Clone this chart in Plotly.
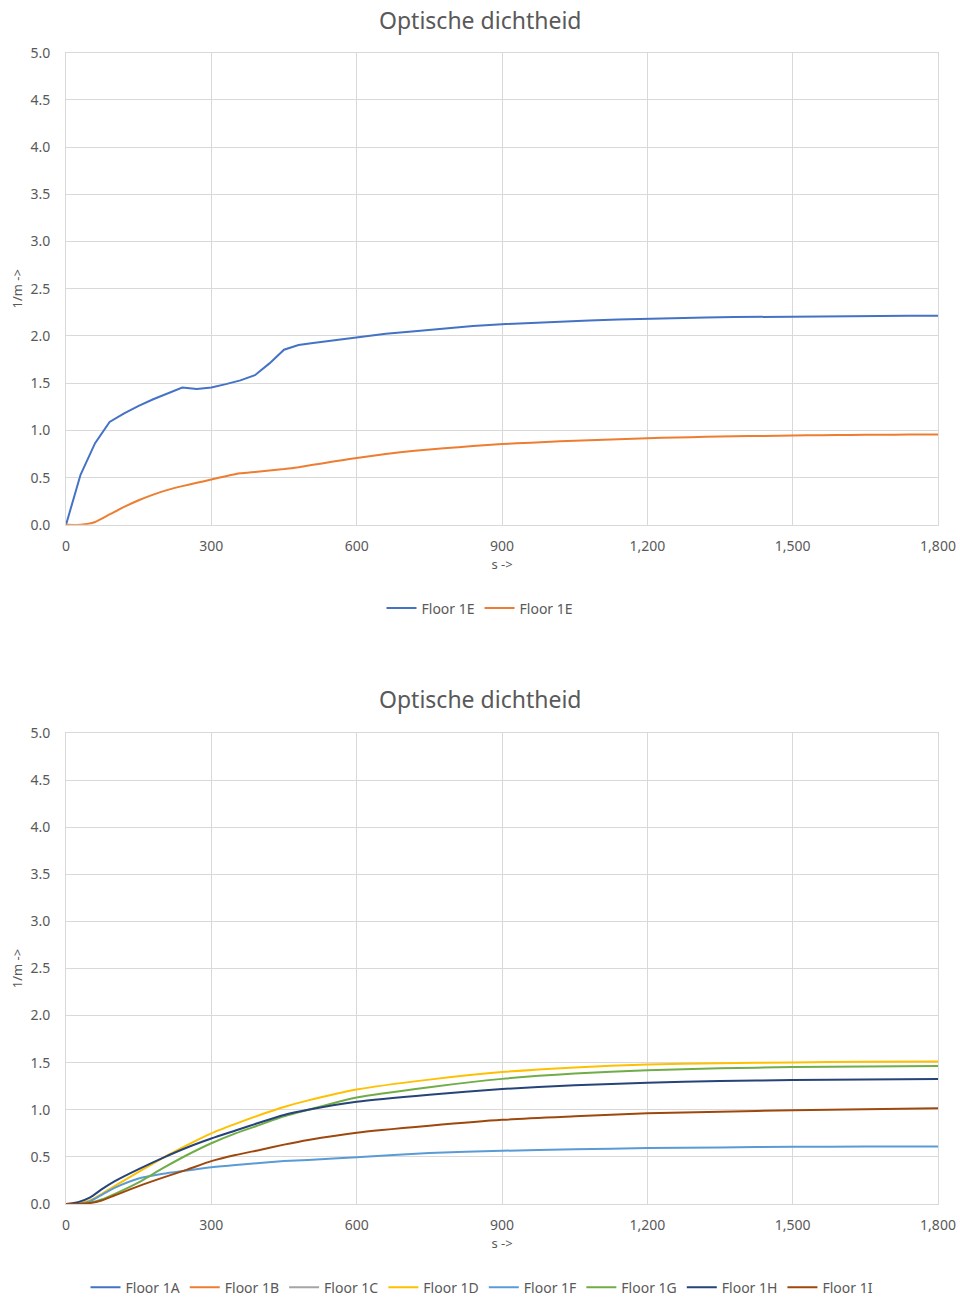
import plotly.graph_objects as go

# ---------------- data: top chart ----------------
t_top = [0, 30, 60, 90, 120, 150, 180, 210, 240, 270, 300, 330, 360, 390, 420, 450,
         480, 510, 540, 570, 600, 660, 720, 780, 840, 900, 960, 1020, 1080, 1140,
         1200, 1260, 1320, 1380, 1440, 1500, 1560, 1620, 1680, 1740, 1800]
floor_1e_a = [0.0, 0.53, 0.865, 1.09, 1.18, 1.26, 1.33, 1.39, 1.455, 1.438, 1.455, 1.49,
              1.53, 1.585, 1.71, 1.855, 1.905, 1.925, 1.945, 1.965, 1.99, 2.025, 2.05,
              2.08, 2.105, 2.125, 2.14, 2.155, 2.165, 2.175, 2.184, 2.19, 2.196, 2.2,
              2.204, 2.208, 2.21, 2.212, 2.213, 2.214, 2.215]
floor_1e_b = [0.0, 0.0, 0.03, 0.11, 0.19, 0.26, 0.32, 0.37, 0.41, 0.445, 0.48, 0.515,
              0.545, 0.56, 0.575, 0.59, 0.61, 0.635, 0.66, 0.685, 0.707, 0.75, 0.785,
              0.81, 0.835, 0.855, 0.87, 0.885, 0.897, 0.907, 0.918, 0.925, 0.932,
              0.937, 0.942, 0.946, 0.95, 0.952, 0.954, 0.956, 0.957]

# ---------------- data: bottom chart ----------------
t_bot = [0, 25, 50, 75, 100, 150, 200, 250, 300, 350, 400, 450, 500, 600, 750, 900,
         1050, 1200, 1350, 1500, 1650, 1800]
floor_1d = [0, 0.005, 0.04, 0.11, 0.19, 0.34, 0.49, 0.625, 0.75, 0.85, 0.945, 1.03, 1.10,
            1.215, 1.32, 1.40, 1.45, 1.48, 1.495, 1.503, 1.51, 1.513]
floor_1f = [0, 0.0, 0.03, 0.10, 0.17, 0.27, 0.32, 0.355, 0.39, 0.415, 0.435, 0.455,
            0.468, 0.497, 0.54, 0.565, 0.58, 0.593, 0.60, 0.607, 0.609, 0.61]
floor_1g = [0, 0.0, 0.015, 0.05, 0.105, 0.23, 0.38, 0.52, 0.645, 0.75, 0.84, 0.93, 1.0,
            1.13, 1.24, 1.328, 1.385, 1.42, 1.44, 1.453, 1.46, 1.464]
floor_1h = [0, 0.02, 0.07, 0.16, 0.24, 0.37, 0.49, 0.60, 0.695, 0.78, 0.865, 0.945, 1.0,
            1.085, 1.16, 1.22, 1.26, 1.287, 1.305, 1.316, 1.322, 1.326]
floor_1i = [0, 0.0, 0.01, 0.04, 0.09, 0.19, 0.28, 0.365, 0.455, 0.52, 0.574, 0.63, 0.68,
            0.757, 0.83, 0.893, 0.93, 0.963, 0.98, 0.995, 1.005, 1.016]

bottom_names = ["Floor 1A", "Floor 1B", "Floor 1C", "Floor 1D", "Floor 1F",
                "Floor 1G", "Floor 1H", "Floor 1I"]
bottom_values = [[], [], [], floor_1d, floor_1f, floor_1g, floor_1h, floor_1i]
bottom_colors = ["#4472C4", "#ED7D31", "#A5A5A5", "#FFC000", "#5B9BD5",
                 "#70AD47", "#264478", "#9E480E"]

x_ticks = [0, 300, 600, 900, 1200, 1500, 1800]
y_ticks = [0, 0.5, 1.0, 1.5, 2.0, 2.5, 3.0, 3.5, 4.0, 4.5, 5.0]

W, H = 960, 1304
KY = 0.9957          # observed vertical compression of the rendered page
FONT = "Noto Sans"
TXT = "#595959"
GRID = "#D9D9D9"

fig = go.Figure()

fig.add_trace(go.Scatter(x=t_top, y=floor_1e_a, mode="lines", name="Floor 1E",
                         line=dict(color="#4472C4", width=2), xaxis="x", yaxis="y",
                         legend="legend"))
fig.add_trace(go.Scatter(x=t_top, y=floor_1e_b, mode="lines", name="Floor 1E",
                         line=dict(color="#ED7D31", width=2, shape="spline", smoothing=0.5),
                         xaxis="x", yaxis="y", legend="legend"))

for name, vals, col in zip(bottom_names, bottom_values, bottom_colors):
    xs = t_bot[:len(vals)] if vals else [None]
    ys = vals if vals else [None]
    fig.add_trace(go.Scatter(x=xs, y=ys, mode="lines", name=name,
                             line=dict(color=col, width=2, shape="spline", smoothing=0.6),
                             xaxis="x2", yaxis="y2", legend="legend2"))

def px_x(p):
    return p / W

def px_y(p):
    return 1 - (p / KY) / H

xdom = [px_x(66), px_x(938)]
axis_x = dict(range=[0, 1800], tickvals=x_ticks, tickformat=",d", automargin=False,
              showgrid=True, gridcolor=GRID, gridwidth=1, zeroline=False,
              showline=True, linecolor=GRID, linewidth=1, mirror=True,
              ticks="", tickfont=dict(family=FONT, size=14, color=TXT),
              ticklabelstandoff=8,
              title=dict(text="s ->", font=dict(family=FONT, size=13, color=TXT), standoff=4),
              fixedrange=True)
axis_y = dict(range=[0, 5], tickvals=y_ticks, tickformat=".1f", automargin=False,
              showgrid=True, gridcolor=GRID, gridwidth=1, zeroline=False,
              showline=True, linecolor=GRID, linewidth=1, mirror=True,
              ticks="", tickfont=dict(family=FONT, size=14, color=TXT),
              ticklabelstandoff=12,
              title=dict(text="1/m ->", font=dict(family=FONT, size=13, color=TXT), standoff=4),
              fixedrange=True)

fig.update_layout(
    width=W, height=H,
    margin=dict(l=0, r=0, t=0, b=0),
    paper_bgcolor="white", plot_bgcolor="white",
    font=dict(family=FONT, color=TXT),
    xaxis=dict(axis_x, domain=xdom, anchor="y"),
    yaxis=dict(axis_y, domain=[px_y(527), px_y(53)], anchor="x"),
    xaxis2=dict(axis_x, domain=xdom, anchor="y2"),
    yaxis2=dict(axis_y, domain=[px_y(1209), px_y(736)], anchor="x2"),
    legend=dict(orientation="h", x=px_x(480), xanchor="center", y=px_y(611), yanchor="middle",
                font=dict(family=FONT, size=14, color=TXT), itemwidth=30,
                bgcolor="rgba(0,0,0,0)"),
    legend2=dict(orientation="h", x=px_x(482), xanchor="center", y=px_y(1293), yanchor="middle",
                 font=dict(family=FONT, size=14, color=TXT), itemwidth=30,
                 bgcolor="rgba(0,0,0,0)"),
    annotations=[
        dict(text="Optische dichtheid", x=px_x(480), y=px_y(20), xref="paper", yref="paper",
             xanchor="center", yanchor="middle", showarrow=False,
             font=dict(family=FONT, size=23, color=TXT)),
        dict(text="Optische dichtheid", x=px_x(480), y=px_y(702), xref="paper", yref="paper",
             xanchor="center", yanchor="middle", showarrow=False,
             font=dict(family=FONT, size=23, color=TXT)),
    ],
)

fig.write_html("out.html", config={"displayModeBar": False},
               post_script="document.body.style.margin='0';document.body.style.overflow='hidden';")
